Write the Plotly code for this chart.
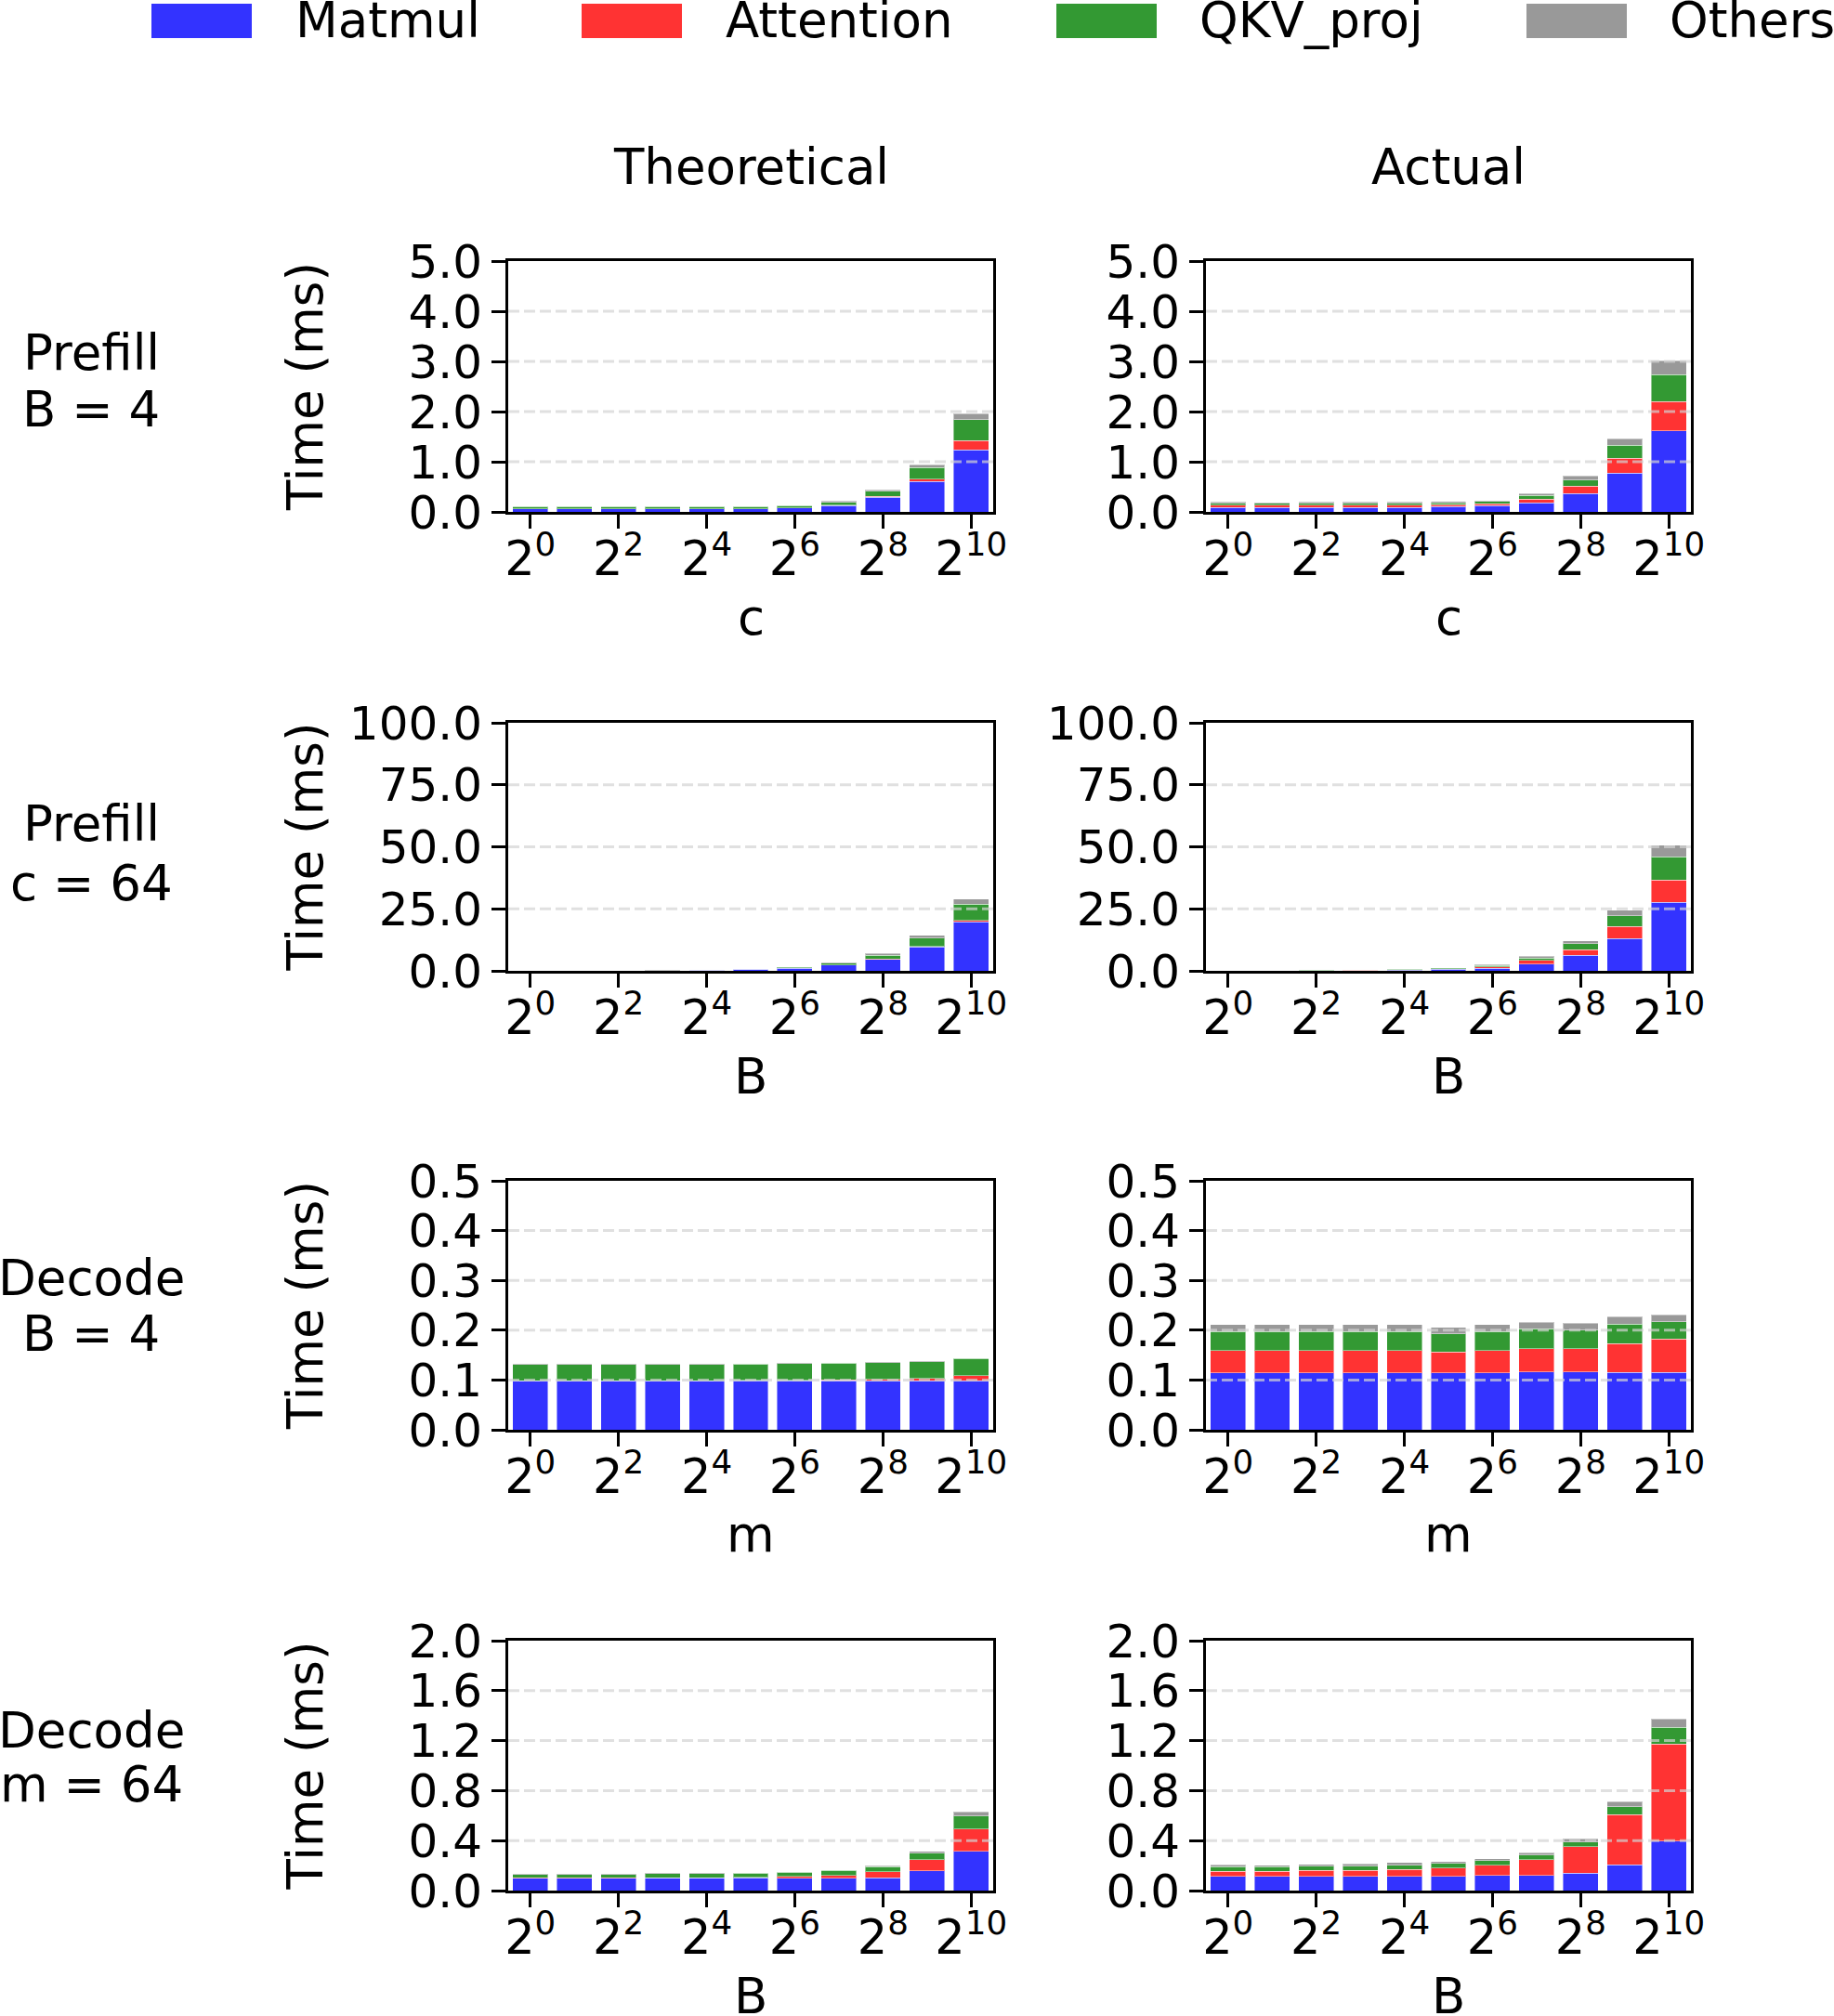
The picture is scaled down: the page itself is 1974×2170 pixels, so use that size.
import plotly.graph_objects as go
from plotly.subplots import make_subplots

# ---------------- data ----------------
exponents = [0, 1, 2, 3, 4, 5, 6, 7, 8, 9, 10]
tick_exps = [0, 2, 4, 6, 8, 10]
tick_labels = ["2<sup>0</sup>", "2<sup>2</sup>", "2<sup>4</sup>", "2<sup>6</sup>", "2<sup>8</sup>", "2<sup>10</sup>"]
series_names = ["Matmul", "Attention", "QKV_proj", "Others"]
series_colors = ["rgb(51,51,255)", "rgb(255,51,51)", "rgb(51,153,51)", "rgb(153,153,153)"]

row_titles = [["Prefill", "B = 4"], ["Prefill", "c = 64"], ["Decode", "B = 4"], ["Decode", "m = 64"]]
col_titles = ["Theoretical", "Actual"]
x_labels = ["c", "B", "m", "B"]
y_ticks = [
    [0, 1, 2, 3, 4, 5],
    [0, 25, 50, 75, 100],
    [0, 0.1, 0.2, 0.3, 0.4, 0.5],
    [0, 0.4, 0.8, 1.2, 1.6, 2.0],
]

# Row 1: Prefill, B = 4 (x = c)
pb4_theo_matmul = [0.06, 0.06, 0.06, 0.06, 0.06, 0.06, 0.08, 0.125, 0.29, 0.61, 1.24]
pb4_theo_attn = [0.002, 0.002, 0.002, 0.002, 0.002, 0.002, 0.003, 0.005, 0.02, 0.045, 0.18]
pb4_theo_qkv = [0.045, 0.045, 0.045, 0.045, 0.045, 0.045, 0.045, 0.06, 0.10, 0.225, 0.42]
pb4_theo_other = [0.005, 0.005, 0.005, 0.005, 0.005, 0.005, 0.007, 0.025, 0.03, 0.056, 0.12]

pb4_act_matmul = [0.09, 0.09, 0.09, 0.09, 0.09, 0.105, 0.125, 0.18, 0.37, 0.775, 1.62]
pb4_act_attn = [0.045, 0.043, 0.045, 0.045, 0.045, 0.04, 0.04, 0.075, 0.14, 0.29, 0.575]
pb4_act_qkv = [0.04, 0.04, 0.04, 0.04, 0.04, 0.04, 0.04, 0.07, 0.125, 0.26, 0.54]
pb4_act_other = [0.025, 0.02, 0.025, 0.025, 0.025, 0.025, 0.025, 0.04, 0.08, 0.13, 0.275]

# Row 2: Prefill, c = 64 (x = B)
pc64_theo_matmul = [0.06, 0.06, 0.08, 0.125, 0.29, 0.61, 1.1, 2.3, 4.6, 9.6, 19.8]
pc64_theo_attn = [0.0005, 0.001, 0.002, 0.004, 0.008, 0.016, 0.03, 0.06, 0.125, 0.25, 0.5]
pc64_theo_qkv = [0.045, 0.045, 0.045, 0.06, 0.10, 0.225, 0.4, 0.75, 1.5, 3.4, 6.6]
pc64_theo_other = [0.005, 0.005, 0.007, 0.025, 0.03, 0.056, 0.15, 0.4, 0.75, 1.1, 2.1]

pc64_act_matmul = [0.09, 0.09, 0.105, 0.18, 0.37, 0.6, 1.0, 2.8, 6.3, 13.1, 27.7]
pc64_act_attn = [0.02, 0.03, 0.045, 0.075, 0.14, 0.25, 0.6, 1.4, 2.3, 4.7, 9.0]
pc64_act_qkv = [0.04, 0.04, 0.04, 0.07, 0.125, 0.3, 0.6, 0.9, 2.3, 4.4, 9.3]
pc64_act_other = [0.025, 0.025, 0.025, 0.04, 0.08, 0.15, 0.4, 0.75, 1.25, 2.3, 4.7]

# Row 3: Decode, B = 4 (x = m)
db4_theo_matmul = [0.098, 0.098, 0.098, 0.098, 0.098, 0.098, 0.098, 0.098, 0.098, 0.098, 0.098]
db4_theo_attn = [0.0005, 0.0005, 0.0005, 0.0005, 0.0005, 0.001, 0.001, 0.002, 0.003, 0.005, 0.011]
db4_theo_qkv = [0.033, 0.033, 0.033, 0.033, 0.033, 0.033, 0.034, 0.034, 0.034, 0.034, 0.034]
db4_theo_other = [0.0005, 0.0005, 0.0005, 0.0005, 0.0005, 0.0005, 0.0005, 0.0005, 0.0005, 0.0005, 0.0005]

db4_act_matmul = [0.114, 0.114, 0.114, 0.114, 0.114, 0.114, 0.114, 0.116, 0.116, 0.1155, 0.1155]
db4_act_attn = [0.045, 0.045, 0.045, 0.045, 0.045, 0.0425, 0.045, 0.047, 0.047, 0.058, 0.0665]
db4_act_qkv = [0.0385, 0.0385, 0.0385, 0.0385, 0.0385, 0.036, 0.0385, 0.0395, 0.037, 0.039, 0.0348]
db4_act_other = [0.014, 0.014, 0.014, 0.014, 0.014, 0.0135, 0.014, 0.0135, 0.0137, 0.0143, 0.0143]

# Row 4: Decode, m = 64 (x = B)
dm64_theo_matmul = [0.097, 0.097, 0.097, 0.102, 0.102, 0.102, 0.1, 0.1, 0.104, 0.157, 0.313]
dm64_theo_attn = [0.005, 0.005, 0.005, 0.001, 0.001, 0.003, 0.012, 0.022, 0.047, 0.092, 0.181]
dm64_theo_qkv = [0.027, 0.027, 0.027, 0.032, 0.032, 0.035, 0.035, 0.04, 0.04, 0.052, 0.104]
dm64_theo_other = [0.005, 0.005, 0.005, 0.003, 0.003, 0.003, 0.005, 0.005, 0.008, 0.015, 0.032]

dm64_act_matmul = [0.114, 0.114, 0.114, 0.114, 0.114, 0.114, 0.119, 0.122, 0.139, 0.206, 0.395]
dm64_act_attn = [0.042, 0.042, 0.047, 0.047, 0.055, 0.065, 0.085, 0.127, 0.214, 0.40, 0.778]
dm64_act_qkv = [0.035, 0.035, 0.035, 0.035, 0.035, 0.037, 0.035, 0.035, 0.035, 0.065, 0.132]
dm64_act_other = [0.015, 0.013, 0.015, 0.017, 0.02, 0.017, 0.015, 0.02, 0.027, 0.04, 0.07]

panels = [
    [[pb4_theo_matmul, pb4_theo_attn, pb4_theo_qkv, pb4_theo_other],
     [pb4_act_matmul, pb4_act_attn, pb4_act_qkv, pb4_act_other]],
    [[pc64_theo_matmul, pc64_theo_attn, pc64_theo_qkv, pc64_theo_other],
     [pc64_act_matmul, pc64_act_attn, pc64_act_qkv, pc64_act_other]],
    [[db4_theo_matmul, db4_theo_attn, db4_theo_qkv, db4_theo_other],
     [db4_act_matmul, db4_act_attn, db4_act_qkv, db4_act_other]],
    [[dm64_theo_matmul, dm64_theo_attn, dm64_theo_qkv, dm64_theo_other],
     [dm64_act_matmul, dm64_act_attn, dm64_act_qkv, dm64_act_other]],
]

# ---------------- layout geometry (pixels) ----------------
W, H = 1974, 2170
FONT = "DejaVu Sans"
col_px = [(547, 1069), (1298, 1820)]
row_px = [(281, 551), (778, 1045), (1271, 1539), (1766, 2035)]


def px_x(p):
    return p / W


def px_y(p):
    return 1 - p / H


fig = make_subplots(rows=4, cols=2)

for r in range(4):
    for c in range(2):
        for s in range(4):
            fig.add_trace(
                go.Bar(
                    x=exponents,
                    y=panels[r][c][s],
                    name=series_names[s],
                    marker=dict(color=series_colors[s],
                                line=dict(color="rgba(255,255,255,0.45)", width=1)),
                    showlegend=False,
                ),
                row=r + 1, col=c + 1,
            )

shapes = []
annotations = []
for r in range(4):
    for c in range(2):
        idx = r * 2 + c + 1
        xs = "xaxis" if idx == 1 else f"xaxis{idx}"
        ys = "yaxis" if idx == 1 else f"yaxis{idx}"
        xref = "x" if idx == 1 else f"x{idx}"
        yref = "y" if idx == 1 else f"y{idx}"
        x0, x1 = col_px[c]
        y0, y1 = row_px[r]
        fig.layout[xs].update(
            domain=[px_x(x0), px_x(x1)],
            range=[-0.5, 10.5], automargin=False,
            tickmode="array", tickvals=tick_exps, ticktext=tick_labels,
            showline=True, linecolor="black", linewidth=3, mirror=True,
            ticks="outside", ticklen=15, tickwidth=3, tickcolor="black",
            ticklabelstandoff=-11,
            showgrid=False, zeroline=False,
            tickfont=dict(family=FONT, size=51, color="black"),
        )
        yt = y_ticks[r]
        fig.layout[ys].update(
            domain=[px_y(y1), px_y(y0)],
            range=[0, yt[-1]], automargin=False,
            tickmode="array", tickvals=yt, tickformat=".1f",
            showline=True, linecolor="black", linewidth=3, mirror=True,
            ticks="outside", ticklen=15, tickwidth=3, tickcolor="black",
            showgrid=False, zeroline=False,
            tickfont=dict(family=FONT, size=50, color="black"),
        )
        # dashed grid lines drawn above the bars
        for v in yt[1:-1]:
            shapes.append(dict(
                type="line", xref=f"{xref} domain", yref=yref,
                x0=0, x1=1, y0=v, y1=v, layer="above",
                line=dict(color="rgba(211,211,211,0.7)", width=3, dash="12px,5px"),
            ))
        # x-axis label
        annotations.append(dict(
            text=x_labels[r], xref="paper", yref="paper",
            x=px_x((x0 + x1) / 2), y=px_y(y1 + 113),
            xanchor="center", yanchor="middle", showarrow=False,
            font=dict(family=FONT, size=53, color="black"),
        ))
    # y-axis title (left column only)
    annotations.append(dict(
        text="Time (ms)", xref="paper", yref="paper",
        x=px_x(328), y=px_y((row_px[r][0] + row_px[r][1]) / 2),
        xanchor="center", yanchor="middle", textangle=-90, showarrow=False,
        font=dict(family=FONT, size=53, color="black"),
    ))

# row titles
row_title_y = [(379, 440), (887, 950), (1375, 1435), (1862, 1920)]
for r in range(4):
    for k in range(2):
        annotations.append(dict(
            text=row_titles[r][k], xref="paper", yref="paper",
            x=px_x(98), y=px_y(row_title_y[r][k]),
            xanchor="center", yanchor="middle", showarrow=False,
            font=dict(family=FONT, size=53, color="black"),
        ))

# column titles
for c in range(2):
    annotations.append(dict(
        text=col_titles[c], xref="paper", yref="paper",
        x=px_x((col_px[c][0] + col_px[c][1]) / 2), y=px_y(180),
        xanchor="center", yanchor="middle", showarrow=False,
        font=dict(family=FONT, size=53, color="black"),
    ))

# legend (drawn manually to match the wide swatches)
legend_swatch_x = [163, 626, 1137, 1643]
legend_text_x = [316, 779, 1289, 1795]
for s in range(4):
    shapes.append(dict(
        type="rect", xref="paper", yref="paper",
        x0=px_x(legend_swatch_x[s]), x1=px_x(legend_swatch_x[s] + 108),
        y0=px_y(41), y1=px_y(4),
        fillcolor=series_colors[s], line=dict(width=0), layer="above",
    ))
    annotations.append(dict(
        text=series_names[s], xref="paper", yref="paper",
        x=px_x(legend_text_x[s]), y=px_y(22),
        xanchor="left", yanchor="middle", showarrow=False,
        font=dict(family=FONT, size=53, color="black"),
    ))

fig.update_layout(
    template="none",
    width=W, height=H,
    margin=dict(l=0, r=0, t=0, b=0, pad=0, autoexpand=False),
    paper_bgcolor="white", plot_bgcolor="white",
    barmode="stack", bargap=0.2,
    showlegend=False,
    shapes=shapes, annotations=annotations,
    font=dict(family=FONT, color="black"),
)

fig.write_html("out.html")
